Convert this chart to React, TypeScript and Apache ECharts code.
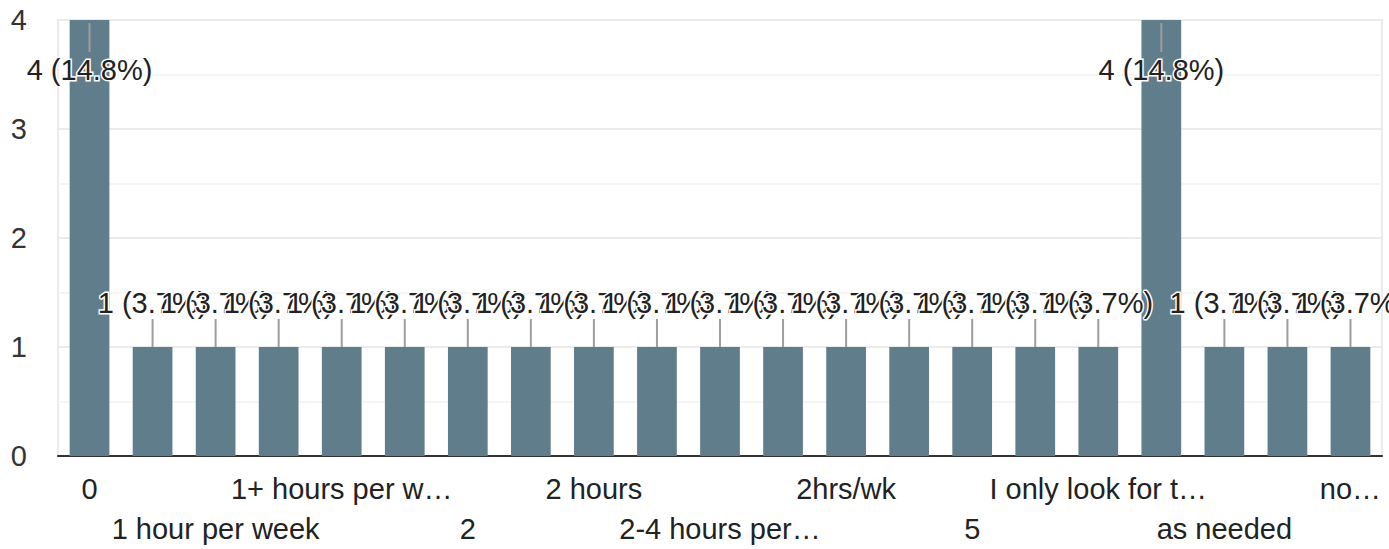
import React, { useEffect, useRef } from "react";
import * as echarts from "echarts";

const categories = [
  "0",
  "1",
  "1 hour per week",
  "1-2 hours",
  "1+ hours per w…",
  "10",
  "2",
  "2 hour",
  "2 hours",
  "2-3 hours",
  "2-4 hours per…",
  "2-5 hours",
  "2hrs/wk",
  "3",
  "5",
  "Depends",
  "I only look for t…",
  "None",
  "as needed",
  "less than 1 hour",
  "no…",
];
const counts = [4, 1, 1, 1, 1, 1, 1, 1, 1, 1, 1, 1, 1, 1, 1, 1, 1, 4, 1, 1, 1];
const yTicks = [0, 1, 2, 3, 4];

const FONT = "Liberation Sans, Arial, sans-serif";
const FS = 29;

export default function App() {
  const ref = useRef<HTMLDivElement>(null);
  useEffect(() => {
    document.body.style.margin = "0";
    if (!ref.current) return;
    const chart = echarts.init(ref.current, undefined, { renderer: "svg" });
    const total = counts.reduce((a, b) => a + b, 0);
    const yMax = yTicks[yTicks.length - 1];
    const pairs = counts.map((v, i) => [i, v]);
    chart.setOption({
      animation: false,
      backgroundColor: "#ffffff",
      grid: {
        left: 58,
        right: 7,
        top: 20,
        bottom: 89,
        show: true,
        borderColor: "#ebebeb",
        borderWidth: 2,
        containLabel: false,
      },
      xAxis: {
        type: "category",
        data: categories,
        axisTick: { show: false },
        axisLine: { show: true, lineStyle: { color: "#333333", width: 2 } },
        axisLabel: {
          interval: 1,
          margin: 13,
          color: "#222222",
          fontSize: FS,
          fontFamily: FONT,
          lineHeight: 40,
          formatter: (value: string, index: number) =>
            (index / 2) % 2 === 1 ? "\n" + value : value,
        },
      },
      yAxis: {
        type: "value",
        min: yTicks[0],
        max: yMax,
        interval: 1,
        axisLine: { show: false },
        axisTick: { show: false },
        axisLabel: {
          margin: 31,
          color: "#333333",
          fontSize: FS,
          fontFamily: FONT,
        },
        splitLine: { lineStyle: { color: "#ebebeb", width: 2 } },
        minorTick: { show: false, splitNumber: 2 },
        minorSplitLine: { show: true, lineStyle: { color: "#f5f5f5", width: 2 } },
      },
      series: [
        {
          type: "bar",
          data: counts,
          barCategoryGap: "37%",
          itemStyle: { color: "#607d8b" },
          z: 2,
        },
        {
          type: "custom",
          data: pairs,
          z: 3,
          encode: { x: 0, y: 1 },
          renderItem: (params: any, api: any) => {
            const idx = api.value(0);
            const v = api.value(1);
            const top = api.coord([idx, v]);
            const isMax = v >= yMax;
            const y1 = isMax ? top[1] + 3 : top[1] - 28;
            const y2 = isMax ? top[1] + 32 : top[1];
            return {
              type: "line",
              shape: { x1: top[0], y1, x2: top[0], y2 },
              style: { stroke: "#9e9e9e", lineWidth: 2 },
            };
          },
        },
        {
          type: "custom",
          data: pairs,
          z: 4,
          encode: { x: 0, y: 1 },
          renderItem: (params: any, api: any) => {
            const idx = api.value(0);
            const v = api.value(1);
            const top = api.coord([idx, v]);
            const isMax = v >= yMax;
            const cy = isMax ? top[1] + 50 : top[1] - 44;
            const txt = `${v} (${((v / total) * 100).toFixed(1)}%)`;
            return {
              type: "text",
              x: top[0],
              y: cy,
              style: {
                text: txt,
                fill: "#222222",
                stroke: "#ffffff",
                lineWidth: 3,
                fontSize: FS,
                fontFamily: FONT,
                align: "center",
                verticalAlign: "middle",
              },
            };
          },
        },
      ],
    });
    return () => chart.dispose();
  }, []);
  return <div ref={ref} style={{ width: 1389, height: 549 }} />;
}
